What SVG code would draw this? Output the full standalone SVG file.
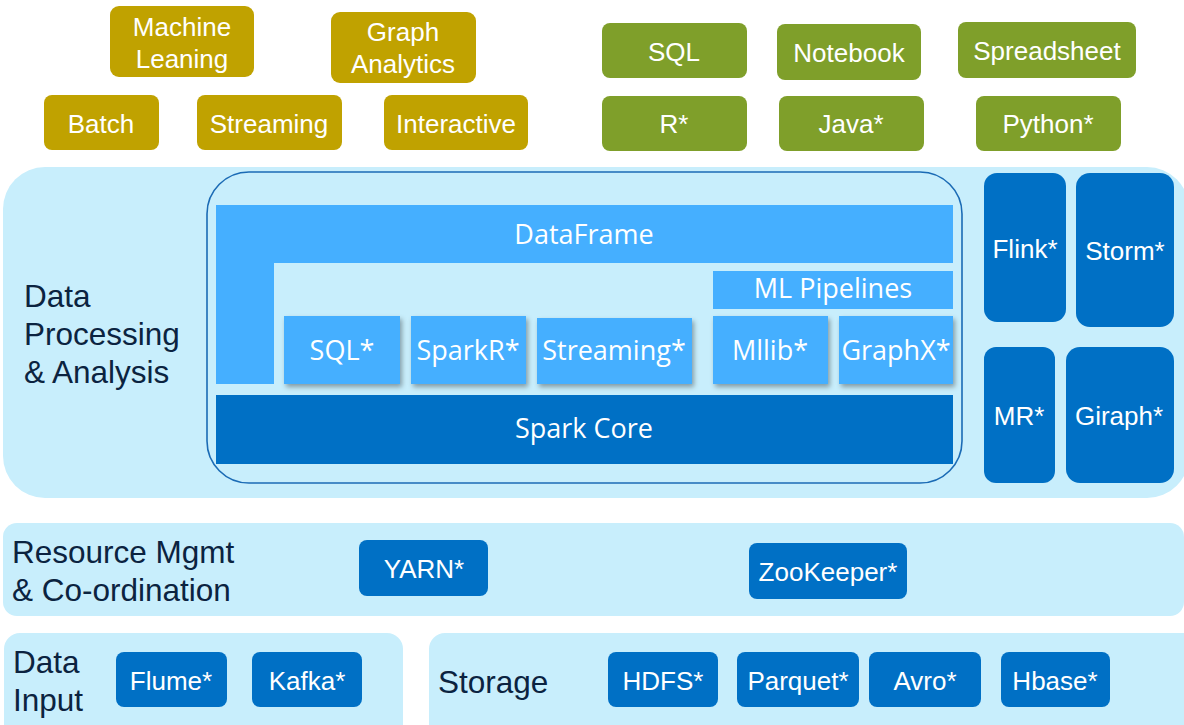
<svg xmlns="http://www.w3.org/2000/svg" width="1184" height="725" viewBox="0 0 1184 725">
<defs>
<style>
.gold{fill:#C0A200}
.green{fill:#7F9F2A}
.band{fill:#C8EEFC}
.dark{fill:#0070C5}
.light{fill:#45AFFF}
.wt{font-family:"Liberation Sans",Arial,sans-serif;font-size:26px;fill:#FFFFFF;text-anchor:middle}
.wt26{font-family:"Liberation Sans",Arial,sans-serif;font-size:26px;fill:#FFFFFF;text-anchor:middle}
.sp{font-family:"Open Sans","Noto Sans",sans-serif;font-size:27px;fill:#FFFFFF;text-anchor:middle}
.lbl{font-family:"Liberation Sans",Arial,sans-serif;font-size:31.5px;fill:#0B2340}
</style>
<filter id="sh" x="-20%" y="-20%" width="150%" height="150%">
<feDropShadow dx="2" dy="3" stdDeviation="2.5" flood-color="#000000" flood-opacity="0.35"/>
</filter>
</defs>
<rect width="1184" height="725" fill="#FFFFFF"/>

<!-- bands -->
<g id="band-processing">
<rect class="band" x="3" y="167" width="1186" height="331" rx="42"/>
<text class="lbl" x="24" y="307">Data</text>
<text class="lbl" x="24" y="345">Processing</text>
<text class="lbl" x="24" y="383">&amp; Analysis</text>
</g>
<g id="band-resource">
<rect class="band" x="3" y="523" width="1181" height="93" rx="14"/>
<text class="lbl" x="12" y="563">Resource Mgmt</text>
<text class="lbl" x="12" y="601">&amp; Co-ordination</text>
</g>
<g id="band-input">
<rect class="band" x="4" y="633" width="399" height="110" rx="16"/>
<text class="lbl" x="13" y="673">Data</text>
<text class="lbl" x="13" y="711">Input</text>
</g>
<g id="band-storage">
<rect class="band" x="429" y="633" width="770" height="110" rx="16"/>
<text class="lbl" x="438" y="693">Storage</text>
</g>

<!-- top gold -->
<g id="machine-leaning"><rect class="gold" x="110" y="6" width="144" height="71" rx="9"/><text class="wt" x="182" y="36">Machine</text><text class="wt" x="182" y="68">Leaning</text></g>
<g id="graph-analytics"><rect class="gold" x="331" y="12" width="145" height="71" rx="9"/><text class="wt" x="403" y="41">Graph</text><text class="wt" x="403" y="73">Analytics</text></g>
<g id="batch"><rect class="gold" x="44" y="95" width="115" height="55" rx="8"/><text class="wt" x="101" y="133">Batch</text></g>
<g id="streaming-top"><rect class="gold" x="197" y="95" width="145" height="55" rx="8"/><text class="wt" x="269" y="133">Streaming</text></g>
<g id="interactive"><rect class="gold" x="384" y="95" width="144" height="55" rx="8"/><text class="wt" x="456" y="133">Interactive</text></g>

<!-- top green -->
<g id="sql-top"><rect class="green" x="602" y="23" width="145" height="55" rx="8"/><text class="wt" x="674" y="61">SQL</text></g>
<g id="notebook"><rect class="green" x="777" y="24" width="144" height="56" rx="8"/><text class="wt" x="849" y="62">Notebook</text></g>
<g id="spreadsheet"><rect class="green" x="958" y="22" width="178" height="56" rx="8"/><text class="wt" x="1047" y="60">Spreadsheet</text></g>
<g id="r"><rect class="green" x="602" y="96" width="145" height="55" rx="8"/><text class="wt" x="674" y="133">R*</text></g>
<g id="java"><rect class="green" x="779" y="96" width="145" height="55" rx="8"/><text class="wt" x="851" y="133">Java*</text></g>
<g id="python"><rect class="green" x="976" y="96" width="145" height="55" rx="8"/><text class="wt" x="1048" y="133">Python*</text></g>

<!-- spark stack -->
<g id="spark-frame">
<rect x="207" y="172" width="755" height="311" rx="42" fill="none" stroke="#1B6BB5" stroke-width="1.6"/>
</g>
<g id="dataframe">
<path class="light" d="M216 205 H953 V263 H274 V384 H216 Z"/>
<text class="sp" x="584" y="244">DataFrame</text>
</g>
<g id="ml-pipelines"><rect class="light" x="713" y="271" width="240" height="38"/><text class="sp" x="833" y="298">ML Pipelines</text></g>
<g id="sql-spark"><rect class="light" x="284" y="316" width="116" height="68" filter="url(#sh)"/><text class="sp" x="342" y="360">SQL*</text></g>
<g id="sparkr"><rect class="light" x="411" y="316" width="115" height="68" filter="url(#sh)"/><text class="sp" x="468" y="360">SparkR*</text></g>
<g id="streaming-spark"><rect class="light" x="537" y="318" width="155" height="66" filter="url(#sh)"/><text class="sp" x="614" y="360">Streaming*</text></g>
<g id="mllib"><rect class="light" x="713" y="316" width="115" height="68" filter="url(#sh)"/><text class="sp" x="770" y="360">Mllib*</text></g>
<g id="graphx"><rect class="light" x="839" y="316" width="114" height="68" filter="url(#sh)"/><text class="sp" x="896" y="360">GraphX*</text></g>
<g id="spark-core"><rect class="dark" x="216" y="395" width="737" height="69"/><text class="sp" x="584" y="438">Spark Core</text></g>

<!-- other engines -->
<g id="flink"><rect class="dark" x="984" y="173" width="82" height="149" rx="13"/><text class="wt26" x="1025" y="258">Flink*</text></g>
<g id="storm"><rect class="dark" x="1076" y="173" width="98" height="154" rx="14"/><text class="wt26" x="1125" y="260">Storm*</text></g>
<g id="mr"><rect class="dark" x="984" y="347" width="71" height="136" rx="12"/><text class="wt26" x="1019" y="425">MR*</text></g>
<g id="giraph"><rect class="dark" x="1066" y="347" width="108" height="136" rx="14"/><text class="wt26" x="1119" y="425">Giraph*</text></g>

<!-- resource -->
<g id="yarn"><rect class="dark" x="359" y="540" width="129" height="56" rx="8"/><text class="wt" x="424" y="578">YARN*</text></g>
<g id="zookeeper"><rect class="dark" x="749" y="543" width="158" height="56" rx="8"/><text class="wt" x="828" y="581">ZooKeeper*</text></g>

<!-- input / storage -->
<g id="flume"><rect class="dark" x="116" y="652" width="111" height="55" rx="8"/><text class="wt" x="171" y="690">Flume*</text></g>
<g id="kafka"><rect class="dark" x="252" y="652" width="110" height="55" rx="8"/><text class="wt" x="307" y="690">Kafka*</text></g>
<g id="hdfs"><rect class="dark" x="608" y="652" width="110" height="55" rx="8"/><text class="wt" x="663" y="690">HDFS*</text></g>
<g id="parquet"><rect class="dark" x="737" y="652" width="122" height="55" rx="8"/><text class="wt" x="798" y="690">Parquet*</text></g>
<g id="avro"><rect class="dark" x="869" y="652" width="112" height="55" rx="8"/><text class="wt" x="925" y="690">Avro*</text></g>
<g id="hbase"><rect class="dark" x="1001" y="652" width="109" height="55" rx="8"/><text class="wt" x="1055" y="690">Hbase*</text></g>

<g id="connectors"></g>
</svg>
